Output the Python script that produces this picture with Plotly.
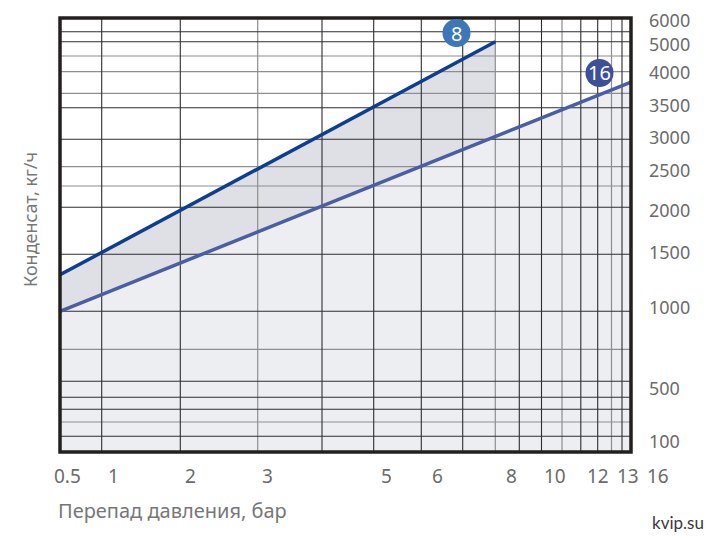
import numpy as np
import plotly.graph_objects as go

# ---------------- data ----------------
PRESSURE_8 = [0.5, 8]          # bar
FLOW_8 = [1320, 5000]          # kg/h
PRESSURE_16 = [0.5, 16]
FLOW_16 = [1000, 3880]
FLOW_BOTTOM = 0

X_TICK_LABELS = ["0.5", "1", "2", "3", "5", "6", "8", "10", "12", "13", "16"]
Y_TICK_LABELS = ["6000", "5000", "4000", "3500", "3000", "2500", "2000", "1500", "1000", "500", "100"]

X_GRID_DARK = [1, 2, 4, 5, 6, 7, 9, 10, 12, 13, 15]
X_GRID_GRAY = [3, 8, 11, 14]
Y_GRID_DARK = [100, 300, 400, 500, 1000, 1500, 2000, 3000, 3500, 5000, 5500]
Y_GRID_GRAY = [200, 750, 2250, 2500, 3750, 4000, 4500]

# ---------------- chart's own (hand-drawn) scales ----------------
# value -> position along the axis (units measured from the plot's left / bottom edge)
X_SCALE_VALUES = [0.5, 1, 2, 3, 4, 5, 6, 7, 8, 9, 10, 11, 12, 13, 14, 15, 16]
X_SCALE_POS = [0, 41.7, 120.3, 197.7, 262, 313.7, 361.3, 402.7, 435.3, 459.3,
               481.5, 502, 520.8, 537.7, 551.5, 562, 571]
Y_SCALE_VALUES = [0, 100, 200, 300, 400, 500, 750, 1000, 1500, 2000, 2250, 2500,
                  3000, 3500, 3750, 4000, 4500, 5000, 5500, 6000]
Y_SCALE_POS = [0, 15.7, 30, 42.7, 54.7, 70.7, 102.7, 140.7, 197.7, 244.7, 266,
               285.3, 312.7, 344.3, 358.7, 380.3, 396, 410.3, 420.3, 434]


def sx(v):
    return list(np.interp(v, X_SCALE_VALUES, X_SCALE_POS))


def sy(v):
    return list(np.interp(v, Y_SCALE_VALUES, Y_SCALE_POS))


# label layout (pixel positions on the photographed page)
PAGE_OFFSET = 8            # default body margin of the html page
L, R, T, B = 60, 631, 18, 452
X_LABEL_PX = [67, 113, 190, 267, 386, 437, 511, 555, 598, 628, 658]
Y_LABEL_PX = [20, 44, 72, 105, 137, 170, 210, 252, 307, 388, 441]


def px_x(p):
    return (p - L) / (R - L)


def px_y(p):
    return (B - p) / (B - T)


FONT = "Noto Sans"
LABEL_COLOR = "#6b6b6b"

fig = go.Figure()

# fills
fig.add_trace(go.Scatter(
    x=sx([PRESSURE_8[0], PRESSURE_8[1], PRESSURE_8[1], PRESSURE_8[0]]),
    y=sy([FLOW_8[0], FLOW_8[1], FLOW_BOTTOM, FLOW_BOTTOM]),
    fill="toself", fillcolor="#dfe0e6", line=dict(width=0), mode="lines",
    hoverinfo="skip"))
fig.add_trace(go.Scatter(
    x=sx([PRESSURE_16[0], PRESSURE_16[1], PRESSURE_16[1], PRESSURE_16[0]]),
    y=sy([FLOW_16[0], FLOW_16[1], FLOW_BOTTOM, FLOW_BOTTOM]),
    fill="toself", fillcolor="#eceef2", line=dict(width=0), mode="lines",
    hoverinfo="skip"))

# grid lines drawn above the fills
ymin, ymax = Y_SCALE_POS[0], Y_SCALE_POS[-1]
xmin, xmax = X_SCALE_POS[0], X_SCALE_POS[-1]


def vgrid(vals):
    xs, ys = [], []
    for p in sx(vals):
        xs += [p, p, None]
        ys += [ymin, ymax, None]
    return xs, ys


def hgrid(vals):
    xs, ys = [], []
    for p in sy(vals):
        xs += [xmin, xmax, None]
        ys += [p, p, None]
    return xs, ys


for vals, fn, col, w in [(X_GRID_GRAY, vgrid, "#8e8e8e", 1.2),
                         (Y_GRID_GRAY, hgrid, "#8e8e8e", 1.2),
                         (X_GRID_DARK, vgrid, "#2e2e2e", 1.1),
                         (Y_GRID_DARK, hgrid, "#2e2e2e", 1.1)]:
    gx, gy = fn(vals)
    fig.add_trace(go.Scatter(x=gx, y=gy, mode="lines",
                             line=dict(color=col, width=w), hoverinfo="skip"))

# curves
fig.add_trace(go.Scatter(x=sx(PRESSURE_16), y=sy(FLOW_16), mode="lines",
                         line=dict(color="#4b5ea3", width=3.5), name="16"))
fig.add_trace(go.Scatter(x=sx(PRESSURE_8), y=sy(FLOW_8), mode="lines",
                         line=dict(color="#0f3d8f", width=3.5), name="8"))

annotations = []
for t, p in zip(X_TICK_LABELS, X_LABEL_PX):
    annotations.append(dict(x=px_x(p), y=px_y(476), xref="paper", yref="paper",
                            text=t, showarrow=False, xanchor="center", yanchor="middle",
                            font=dict(family=FONT, size=19, color=LABEL_COLOR)))
for t, p in zip(Y_TICK_LABELS, Y_LABEL_PX):
    annotations.append(dict(x=px_x(648), y=px_y(p), xref="paper", yref="paper",
                            text=t, showarrow=False, xanchor="left", yanchor="middle",
                            borderpad=0,
                            font=dict(family=FONT, size=18, color=LABEL_COLOR)))

annotations.append(dict(x=px_x(56), y=px_y(511), xref="paper", yref="paper",
                        text="Перепад давления, бар", showarrow=False,
                        xanchor="left", yanchor="middle",
                        font=dict(family=FONT, size=20, color="#777777")))
annotations.append(dict(x=px_x(30), y=px_y(220), xref="paper", yref="paper",
                        text="Конденсат, кг/ч", showarrow=False, textangle=-90,
                        xanchor="center", yanchor="middle",
                        font=dict(family=FONT, size=18, color="#777777")))
annotations.append(dict(x=px_x(706), y=px_y(522), xref="paper", yref="paper",
                        text="kvip.su", showarrow=False, xanchor="right", yanchor="middle",
                        font=dict(family="Lato", size=17, color="#3a3a3a")))

shapes = [dict(type="rect", xref="paper", yref="paper", x0=0, y0=0, x1=1, y1=1,
               line=dict(color="#231f1f", width=3.5), layer="above")]

# badges
for label, cx, cy, col in [("8", 456.5, 33, "#3d77b7"), ("16", 599.5, 73, "#3c4f98")]:
    r = 14
    shapes.append(dict(type="circle", xref="paper", yref="paper",
                       x0=px_x(cx - r), x1=px_x(cx + r), y0=px_y(cy + r), y1=px_y(cy - r),
                       fillcolor=col, line=dict(width=0), layer="above"))
    annotations.append(dict(x=px_x(cx), y=px_y(cy), xref="paper", yref="paper",
                            text=label, showarrow=False, xanchor="center", yanchor="middle",
                            font=dict(family=FONT, size=20, color="white")))

W, H = 722, 544
fig.update_layout(
    width=W, height=H,
    margin=dict(l=L - PAGE_OFFSET, r=W - (R - PAGE_OFFSET),
                t=T - PAGE_OFFSET, b=H - (B - PAGE_OFFSET)),
    paper_bgcolor="white", plot_bgcolor="white",
    showlegend=False, hovermode=False,
    xaxis=dict(range=[xmin, xmax], showgrid=False, zeroline=False,
               showticklabels=False, ticks="", fixedrange=True),
    yaxis=dict(range=[ymin, ymax], showgrid=False, zeroline=False,
               showticklabels=False, ticks="", fixedrange=True),
    annotations=annotations, shapes=shapes,
)

fig.write_html("out.html")
